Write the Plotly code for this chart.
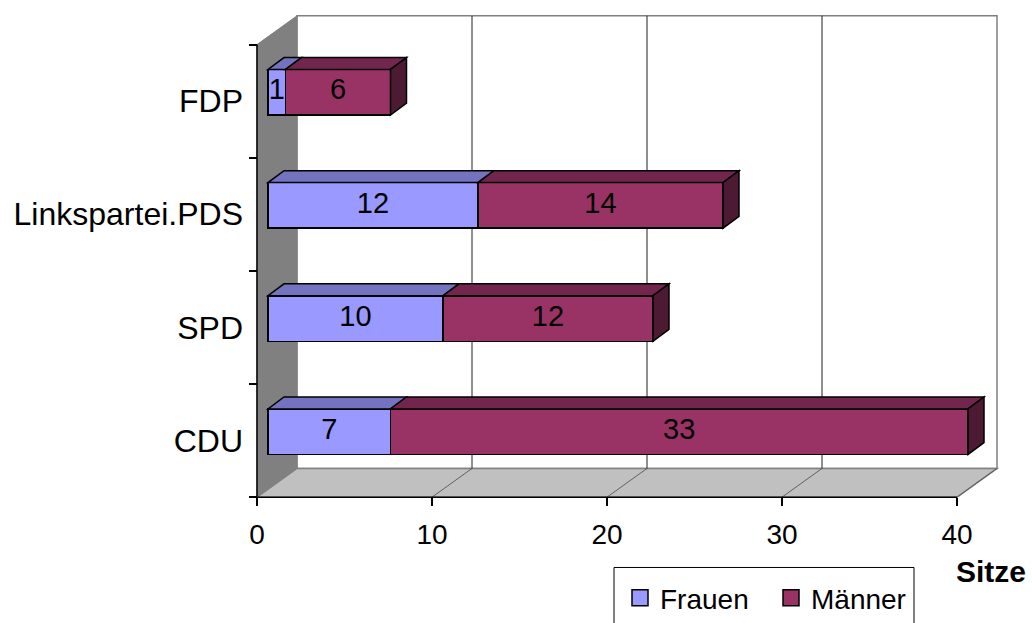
import plotly.graph_objects as go

# ---------------- data ----------------
categories = ["CDU", "SPD", "Linkspartei.PDS", "FDP"]   # bottom -> top
frauen = [7, 10, 12, 1]
maenner = [33, 12, 14, 6]
series_names = ["Frauen", "Männer"]
x_tick_values = [0, 10, 20, 30, 40]
x_axis_title = "Sitze"

# ---------------- geometry / style ----------------
W, H = 1032, 623
FX0, FX1 = 257, 957      # front plane: pixel x of 0 and of x max
FYT, FYB = 45, 502       # front plane: top / bottom pixel
DX, DY = 40, 29          # depth of walls (px)
BSX, BSY = 11, 9         # shift of bar front faces from the front plane (px)
BAR_H = 46               # bar thickness (px)
BDX, BDY = 16, 12        # bar depth (px)

FONT = "Liberation Sans, Arial, sans-serif"
C_F, C_F_TOP = "#9999FF", "#7373BF"
C_M, C_M_TOP, C_M_SIDE = "#993366", "#73264D", "#4D1A33"
C_WALL, C_FLOOR, C_EDGE = "#808080", "#C0C0C0", "#808080"

XMAX = x_tick_values[-1]
n = len(categories)
sx = (FX1 - FX0) / XMAX          # px per x unit
sy = (FYB - FYT) / n             # px per category


def xrange_for(x0px):
    return [-x0px / sx, (W - x0px) / sx]


def yrange_for(ybot_px):
    return [-0.5 - (H - ybot_px) / sy, -0.5 + ybot_px / sy]


def poly(pts):
    return "M " + " L ".join(f"{x:.5f},{y:.5f}" for x, y in pts) + " Z"


ddx, ddy = DX / sx, DY / sy
bdx, bdy = BDX / sx, BDY / sy
half = BAR_H / 2 / sy
ylo, yhi = -0.5, n - 0.5

shapes = []
# back wall
shapes.append(dict(type="rect", xref="x", yref="y", layer="below",
                   x0=ddx, x1=XMAX + ddx, y0=ylo + ddy, y1=yhi + ddy,
                   fillcolor="white", line=dict(color=C_EDGE, width=1.5)))
# left wall
shapes.append(dict(type="path", xref="x", yref="y", layer="below",
                   path=poly([(0, ylo), (0, yhi), (ddx, yhi + ddy), (ddx, ylo + ddy)]),
                   fillcolor=C_WALL, line=dict(color=C_EDGE, width=1)))
# floor
shapes.append(dict(type="path", xref="x", yref="y", layer="below",
                   path=poly([(0, ylo), (XMAX, ylo), (XMAX + ddx, ylo + ddy), (ddx, ylo + ddy)]),
                   fillcolor=C_FLOOR, line=dict(color=C_EDGE, width=1.5)))
# gridlines on back wall and floor
for t in x_tick_values[1:-1]:
    shapes.append(dict(type="line", xref="x", yref="y", layer="below",
                       x0=t + ddx, x1=t + ddx, y0=ylo + ddy, y1=yhi + ddy,
                       line=dict(color="#202020", width=1)))
for t in x_tick_values[1:]:
    shapes.append(dict(type="line", xref="x", yref="y", layer="below",
                       x0=t, x1=t + ddx, y0=ylo, y1=ylo + ddy,
                       line=dict(color="#606060", width=1)))
# front axis lines
shapes.append(dict(type="line", xref="x", yref="y", layer="below",
                   x0=0, x1=XMAX, y0=ylo, y1=ylo, line=dict(color="black", width=1.5)))
shapes.append(dict(type="line", xref="x", yref="y", layer="below",
                   x0=0, x1=0, y0=ylo, y1=yhi, line=dict(color="black", width=1.5)))

# 3D faces of the bars (computed from the data)
for i in range(n):
    base = 0
    segs = [(frauen[i], C_F_TOP), (maenner[i], C_M_TOP)]
    for v, ctop in segs:
        x0, x1 = base, base + v
        shapes.append(dict(type="path", xref="x2", yref="y2", layer="above",
                           path=poly([(x0, i + half), (x1, i + half),
                                      (x1 + bdx, i + half + bdy), (x0 + bdx, i + half + bdy)]),
                           fillcolor=ctop, line=dict(color="black", width=1.5)))
        base = x1
    shapes.append(dict(type="path", xref="x2", yref="y2", layer="above",
                       path=poly([(base, i - half), (base, i + half),
                                  (base + bdx, i + half + bdy), (base + bdx, i - half + bdy)]),
                       fillcolor=C_M_SIDE, line=dict(color="black", width=1.5)))

# legend frame
LX0, LY0, LX1 = 614, 573, 914
shapes.append(dict(type="rect", xref="paper", yref="paper", layer="above",
                   x0=LX0 / W, x1=LX1 / W, y0=(H - LY0) / H, y1=-0.05,
                   fillcolor="white", line=dict(color="black", width=1)))

fig = go.Figure()

# invisible trace to register the categories on the front axes
fig.add_trace(go.Scatter(x=[0] * n, y=categories, mode="markers",
                         marker=dict(opacity=0), showlegend=False, hoverinfo="skip",
                         xaxis="x", yaxis="y"))

# bars (front faces)
fig.add_trace(go.Bar(y=categories, x=frauen, orientation="h", name=series_names[0],
                     marker=dict(color=C_F, line=dict(color="black", width=1.5)),
                     showlegend=False, xaxis="x2", yaxis="y2"))
fig.add_trace(go.Bar(y=categories, x=maenner, orientation="h", name=series_names[1],
                     marker=dict(color=C_M, line=dict(color="black", width=1.5)),
                     showlegend=False, xaxis="x2", yaxis="y2"))

# value labels
lab_x = [f / 2 for f in frauen] + [f + m / 2 for f, m in zip(frauen, maenner)]
lab_y = categories + categories
lab_t = [str(v) for v in frauen] + [str(v) for v in maenner]
fig.add_trace(go.Scatter(x=lab_x, y=lab_y, text=lab_t, mode="text",
                         textposition="middle center",
                         textfont=dict(size=29, color="black", family=FONT),
                         showlegend=False, hoverinfo="skip", cliponaxis=False,
                         xaxis="x2", yaxis="y2"))

# legend entries
for name, col in zip(series_names, [C_F, C_M]):
    fig.add_trace(go.Scatter(x=[None], y=[None], mode="markers", name=name,
                             marker=dict(symbol="square", size=16, color=col,
                                         line=dict(color="black", width=1.5)),
                             xaxis="x2", yaxis="y2"))

fig.update_layout(
    width=W, height=H,
    margin=dict(l=0, r=0, t=0, b=0),
    paper_bgcolor="white", plot_bgcolor="rgba(0,0,0,0)",
    font=dict(family=FONT, color="black"),
    barmode="stack", bargap=1 - BAR_H / sy,
    showlegend=True,
    legend=dict(orientation="h", x=(LX0 + 6) / W, y=(H - LY0 - 6) / H,
                xanchor="left", yanchor="top", font=dict(size=28, family=FONT),
                bgcolor="rgba(0,0,0,0)", borderwidth=0, traceorder="normal",
                entrywidth=106, entrywidthmode="pixels"),
    xaxis=dict(domain=[0, 1], range=xrange_for(FX0), anchor="free",
               position=(H - FYB) / H, tickmode="array", tickvals=x_tick_values,
               ticks="outside", ticklen=8, tickcolor="black", tickwidth=1.5,
               showgrid=False, zeroline=False, showline=False,
               tickfont=dict(size=28), ticklabelstandoff=4),
    yaxis=dict(domain=[0, 1], range=yrange_for(FYB), anchor="free",
               position=FX0 / W, type="category", categoryorder="array",
               categoryarray=categories, tickson="boundaries",
               ticks="outside", ticklen=8, tickcolor="black", tickwidth=1.5,
               showgrid=False, zeroline=False, showline=False,
               tickfont=dict(size=32), ticklabelstandoff=14),
    xaxis2=dict(domain=[0, 1], range=xrange_for(FX0 + BSX), anchor="y2",
                visible=False, showgrid=False, zeroline=False),
    yaxis2=dict(domain=[0, 1], range=yrange_for(FYB - BSY), anchor="x2",
                type="category", categoryorder="array", categoryarray=categories,
                visible=False, showgrid=False, zeroline=False),
    shapes=shapes,
    annotations=[dict(text=f"<b>{x_axis_title}</b>", xref="paper", yref="paper",
                      x=991 / W, y=(H - 577) / H,
                      xanchor="center", yanchor="middle",
                      showarrow=False, font=dict(size=30, family=FONT, color="black"))],
)

# remove the default page margin so the figure sits at the window's top-left corner
fig.write_html("out.html",
               config={"displayModeBar": False},
               post_script="document.body.style.margin='0';"
                           "document.body.style.overflow='hidden';")
